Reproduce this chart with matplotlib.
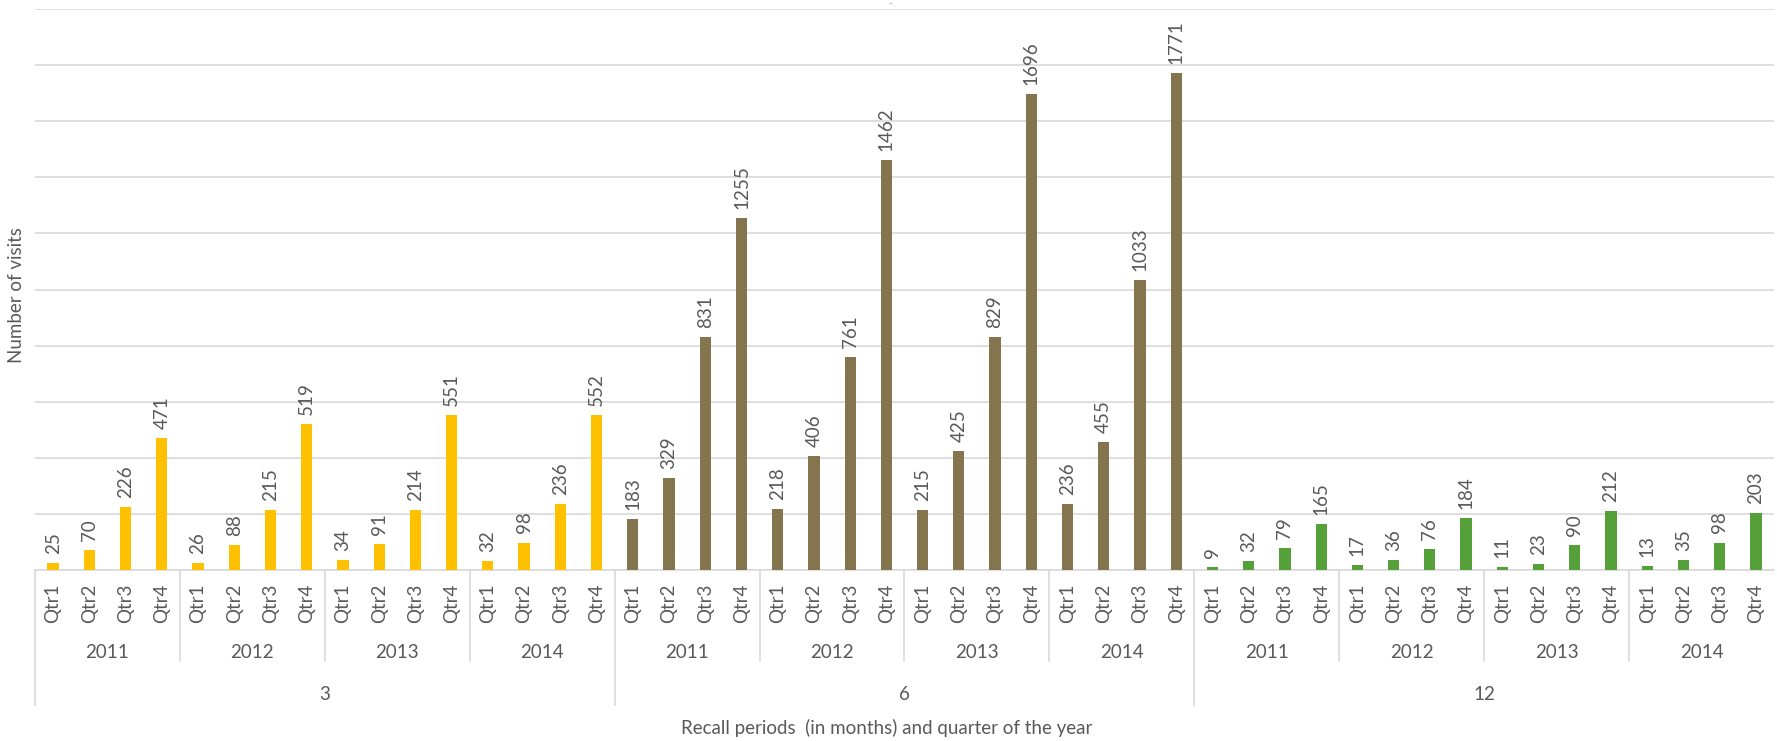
import numpy as np
from matplotlib import pyplot as plt
from matplotlib import transforms

plt.rcParams['font.family'] = ['Lato', 'DejaVu Sans']

# data
recall_periods = ['3', '6', '12']
years = ['2011', '2012', '2013', '2014']
quarters = ['Qtr1', 'Qtr2', 'Qtr3', 'Qtr4']
visits_3 = [25, 70, 226, 471, 26, 88, 215, 519, 34, 91, 214, 551, 32, 98, 236, 552]
visits_6 = [183, 329, 831, 1255, 218, 406, 761, 1462, 215, 425, 829, 1696, 236, 455, 1033, 1771]
visits_12 = [9, 32, 79, 165, 17, 36, 76, 184, 11, 23, 90, 212, 13, 35, 98, 203]
colors = ['#FFC000', '#85754E', '#56A03A']

txt = '#595959'
grid = '#D9D9D9'
fs = 13.5

W, H = 1777, 741
fig = plt.figure(figsize=(W / 100, H / 100), dpi=100)
ax = fig.add_axes([35 / W, 1 - 570 / H, (1774 - 35) / W, (570 - 9) / H])

series = [visits_3, visits_6, visits_12]
n = len(years) * len(quarters)
for g, vals in enumerate(series):
    x = np.arange(n) + g * n
    ax.bar(x, vals, width=0.31, color=colors[g], zorder=3)
    for xi, v in zip(x, vals):
        ax.annotate(str(v), (xi, v), xytext=(0, 6.5), textcoords='offset points',
                    rotation=90, ha='center', va='bottom', fontsize=fs, color=txt)

total = n * len(recall_periods)
ax.set_xlim(-0.5, total - 0.5)
ax.set_ylim(0, 2000)
ax.set_yticks(np.arange(0, 2001, 200))
ax.yaxis.grid(True, color=grid, linewidth=1.2, zorder=0)
ax.tick_params(axis='y', length=0, labelleft=False)
for s in ['top', 'right', 'left']:
    ax.spines[s].set_visible(False)
ax.spines['bottom'].set_color(grid)
ax.spines['bottom'].set_linewidth(1.2)

ax.set_xticks(np.arange(total))
ax.set_xticklabels(quarters * (total // 4), rotation=90, fontsize=fs, color=txt)
ax.tick_params(axis='x', length=0, pad=9.5)

# multi-level category labels below the axis
axh = 570 - 9
tr = transforms.blended_transform_factory(ax.transData, ax.transAxes)
y_year = -(652 - 570) / axh
y_year_sep = -(661 - 570) / axh
y_group = -(694 - 570) / axh
y_group_sep = -(705 - 570) / axh
for g, label in enumerate(recall_periods):
    start = g * n
    for k, yr in enumerate(years):
        x0 = start + k * 4
        ax.text(x0 + 1.5, y_year, yr, transform=tr, ha='center', va='center',
                fontsize=fs, color=txt)
        if k > 0:
            ax.plot([x0 - 0.5, x0 - 0.5], [0, y_year_sep], transform=tr,
                    color=grid, linewidth=1.2, clip_on=False)
    ax.text(start + n / 2 - 0.5, y_group, label, transform=tr, ha='center',
            va='center', fontsize=fs, color=txt)
    ax.plot([start - 0.5, start - 0.5], [0, y_group_sep], transform=tr,
            color=grid, linewidth=1.2, clip_on=False)

ax.text(0.49, -(728 - 570) / axh, 'Recall periods  (in months) and quarter of the year',
        transform=ax.transAxes, ha='center', va='center', fontsize=fs, color=txt)
fig.text(17 / W, 1 - 295 / H, 'Number of visits', rotation=90, ha='center',
         va='center', fontsize=fs, color=txt)
fig.text(890 / W, 1 - 4 / H, '-', ha='center', va='center', fontsize=7, color='#999999')

fig.savefig('out.png', dpi=100)
